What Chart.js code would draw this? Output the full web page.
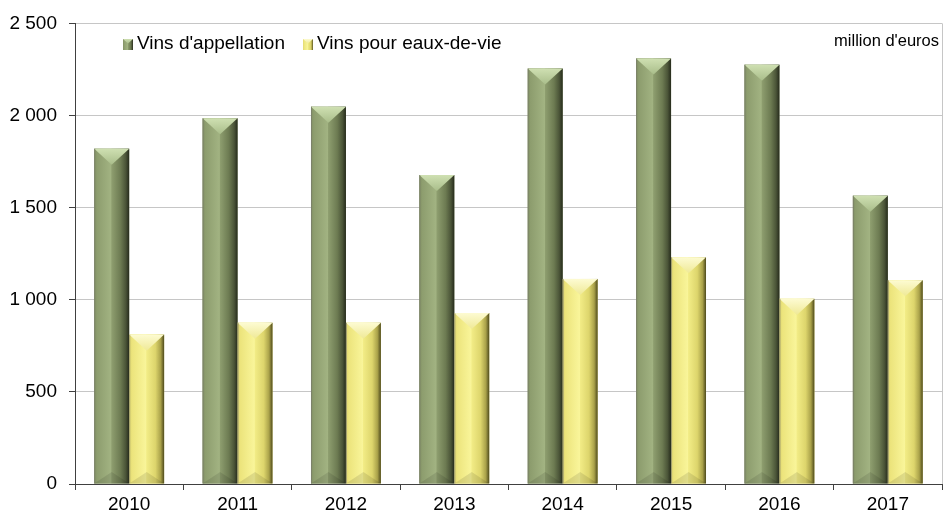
<!DOCTYPE html>
<html><head><meta charset="utf-8">
<script src="https://cdn.jsdelivr.net/npm/chart.js@4/dist/chart.umd.min.js"></script>
<style>html,body{margin:0;padding:0;background:#fff}#wrap{width:943px;height:515px}</style>
</head><body><div id="wrap"><canvas id="c" width="943" height="515"></canvas></div>
<script>
const years = ['2010','2011','2012','2013','2014','2015','2016','2017'];
const vinsAppellation = [1820,1985,2048,1677,2255,2310,2276,1565];
const vinsEauxDeVie = [811,875,875,928,1113,1231,1005,1106];
const yTicks = [0,500,1000,1500,2000,2500];
const seriesNames = ["Vins d'appellation","Vins pour eaux-de-vie"];
const unitLabel = "million d'euros";

const FONT = "'Liberation Sans', Arial, sans-serif";
const palettes = [
  { base:'#8c9c6c',
    stops:[[0,'#7f8e62'],[0.08,'#8d9d6e'],[0.48,'#a2b382'],[0.5,'#8e9e6f'],[0.75,'#6d7b52'],[0.9,'#4b5538'],[1,'#262b1c']],
    top:['#cfe0b2','#a9bd8a'] },
  { base:'#f0ea80',
    stops:[[0,'#ddd56e'],[0.08,'#ece47c'],[0.48,'#f9f59a'],[0.5,'#f2ec86'],[0.75,'#ddd56c'],[0.9,'#aaa24a'],[1,'#4e4a1c']],
    top:['#fdfbd2','#efe996'] }
];

function paintBar(ctx, l, r, top, base, pal, edge){
  const w = r - l, h = base - top, x = (l + r) / 2;
  const g = ctx.createLinearGradient(l,0,r,0);
  pal.stops.forEach(([o,c])=>g.addColorStop(o,c));
  ctx.fillStyle = g;
  ctx.fillRect(l, top, w, h);
  const bh = Math.min(w*0.46, h/2);
  const tg = ctx.createLinearGradient(0, top, 0, top+bh);
  tg.addColorStop(0, pal.top[0]); tg.addColorStop(1, pal.top[1]);
  ctx.fillStyle = tg;
  ctx.beginPath(); ctx.moveTo(l, top); ctx.lineTo(r, top); ctx.lineTo(x, top+bh); ctx.closePath(); ctx.fill();
  if (edge) {
    const bb = Math.min(w*0.33, h/3);
    ctx.fillStyle = 'rgba(0,0,0,0.10)';
    ctx.beginPath(); ctx.moveTo(l, base); ctx.lineTo(r, base); ctx.lineTo(x, base-bb); ctx.closePath(); ctx.fill();
    ctx.strokeStyle = 'rgba(120,120,110,0.6)'; ctx.lineWidth = 1;
    ctx.beginPath(); ctx.moveTo(l+0.5, top); ctx.lineTo(l+0.5, base); ctx.stroke();
  }
}

const shade = {
  id:'shade',
  afterDatasetsDraw(chart){
    const ctx = chart.ctx;
    ctx.save();
    chart.data.datasets.forEach((ds, di)=>{
      const meta = chart.getDatasetMeta(di);
      meta.data.forEach(el=>{
        const p = el.getProps(['x','y','base','width'], true);
        paintBar(ctx, p.x - p.width/2, p.x + p.width/2, p.y, p.base, palettes[di], true);
      });
    });
    ctx.restore();
  }
};

const decor = {
  id:'decor',
  afterDraw(chart){
    const ctx = chart.ctx, a = chart.chartArea;
    ctx.save();
    ctx.strokeStyle = '#c6c6c6'; ctx.lineWidth = 1;
    ctx.beginPath(); ctx.moveTo(a.right+0.5, a.top); ctx.lineTo(a.right+0.5, a.bottom); ctx.stroke();
    // legend
    ctx.font = '19px ' + FONT;
    ctx.textBaseline = 'middle'; ctx.textAlign = 'left'; ctx.fillStyle = '#000';
    let x = 123; const cy = 44;
    seriesNames.forEach((name, i)=>{
      paintBar(ctx, x, x+10, cy-5, cy+6, palettes[i], false);
      ctx.fillStyle = '#000';
      ctx.fillText(name, x+14, cy);
      x = x + 14 + ctx.measureText(name).width + 18;
    });
    ctx.font = '16.5px ' + FONT;
    ctx.textAlign = 'right';
    ctx.fillText(unitLabel, 939, 41);
    ctx.restore();
  }
};

new Chart(document.getElementById('c'), {
  type:'bar',
  data:{
    labels: years,
    datasets:[
      {label: seriesNames[0], data: vinsAppellation, backgroundColor: palettes[0].base, categoryPercentage:0.645, barPercentage:1},
      {label: seriesNames[1], data: vinsEauxDeVie, backgroundColor: palettes[1].base, categoryPercentage:0.645, barPercentage:1}
    ]
  },
  options:{
    responsive:false, animation:false, devicePixelRatio:1,
    layout:{padding:{top:20,right:1,left:0,bottom:0}},
    plugins:{legend:{display:false}, tooltip:{enabled:false}},
    scales:{
      x:{
        grid:{offset:true, drawOnChartArea:false, tickLength:6, tickColor:'#404040'},
        border:{color:'#404040'},
        ticks:{color:'#000', font:{family:FONT, size:19}, padding:3},
        afterFit(s){ s.height = 31; }
      },
      y:{
        min:0, max:2500,
        afterBuildTicks(s){ s.ticks = yTicks.map(v=>({value:v})); },
        grid:{color:'#c6c6c6', tickLength:6, tickColor:'#404040'},
        border:{color:'#404040'},
        ticks:{color:'#000', font:{family:FONT, size:19}, padding:12,
          callback:v=>String(v).replace(/\B(?=(\d{3})+(?!\d))/g,' ')},
        afterFit(s){ s.width = 75; }
      }
    }
  },
  plugins:[shade, decor]
});
</script></body></html>
